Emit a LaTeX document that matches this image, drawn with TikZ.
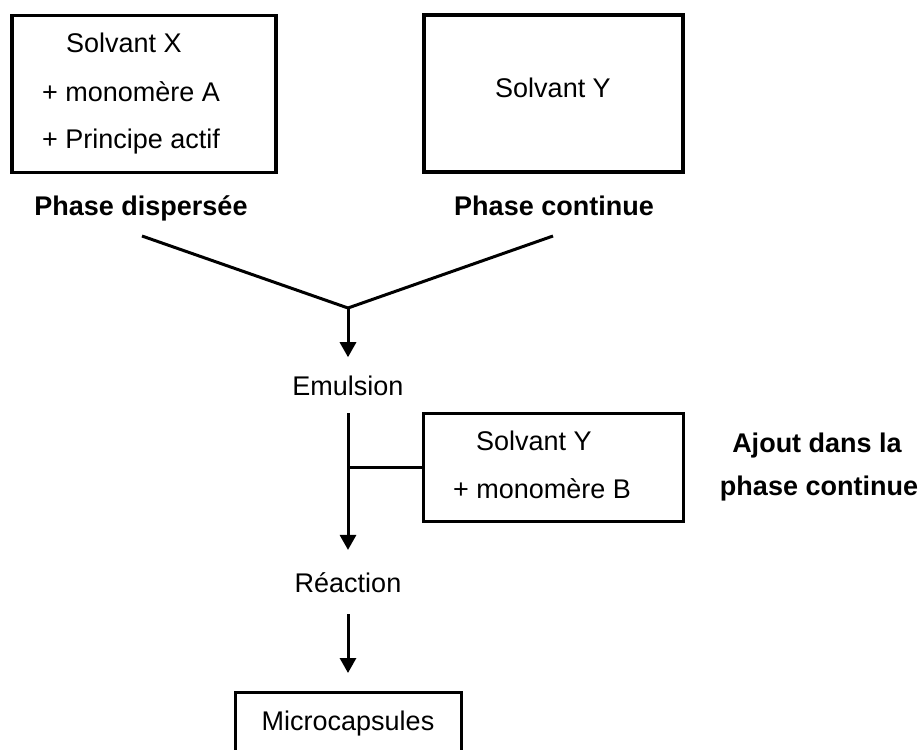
\documentclass[tikz,border=0pt]{standalone}
\usepackage{fontspec}
\setmainfont{Liberation Sans}
\usetikzlibrary{arrows.meta}

\begin{document}
\begin{tikzpicture}[x=1pt,y=-1pt,
  every node/.style={font=\fontsize{27}{32}\selectfont,inner sep=0pt},
  phasebox/.style={draw,line width=3.8pt,minimum width=#1,minimum height=157pt},
  addbox/.style={draw,line width=3pt},
  label/.style={font=\fontsize{27}{32}\selectfont\bfseries},
  stage/.style={inner ysep=18pt},
  flow/.style={line width=3pt,-{Triangle[length=15pt,width=16pt]}},
  link/.style={line width=3pt}]
  \useasboundingbox (0,0) rectangle (920,749);
  \clip (0,0) rectangle (920,749);

  \node[phasebox=264pt] (boxX) at (144,94) {};
  \node[anchor=base west] (solvX) at (66,53) {Solvant X};
  \node[anchor=base west] (monoA) at (42,102) {+ monomère A};
  \node[anchor=base west] (princ) at (42,148) {+ Principe actif};
  \node[label,anchor=base] (disp) at (141,215) {Phase dispersée};

  \node[phasebox=259pt] (boxY) at (553.5,93.5) {};
  \node[anchor=base] (solvY) at (553,98) {Solvant Y};
  \node[label,anchor=base] (cont) at (554,215) {Phase continue};

  \coordinate (dispEnd) at (142,236);
  \coordinate (contEnd) at (553,236);
  \coordinate (join) at (348,308);
  \draw[link] (dispEnd) -- (join) -- (contEnd);

  \node[stage,anchor=base] (emul) at (348,395) {Emulsion};
  \draw[flow] (join) -- (emul.north);

  \node[addbox,minimum width=260pt,minimum height=108pt] (boxB) at (553,467) {};
  \node[anchor=base west] (solvB) at (476,450) {Solvant Y};
  \node[anchor=base west] (monoB) at (453,498) {+ monomère B};
  \node[label,anchor=base] (ajout) at (817,452) {Ajout dans la};
  \node[label,anchor=base] (ajout2) at (819,495) {phase continue};

  \node[stage,inner ysep=22pt,anchor=base] (rea) at (348,592) {Réaction};
  \draw[flow] (emul.south) -- (rea.north);
  \draw[link] (boxB.west) -- (boxB.west -| emul.south);

  \node[addbox,anchor=north,minimum width=226pt,inner ysep=18pt,
        text depth=50pt] (micro) at (348,691) {Microcapsules};
  \draw[flow,shorten >=18pt] (rea.south) -- (micro.north);
\end{tikzpicture}
\end{document}
